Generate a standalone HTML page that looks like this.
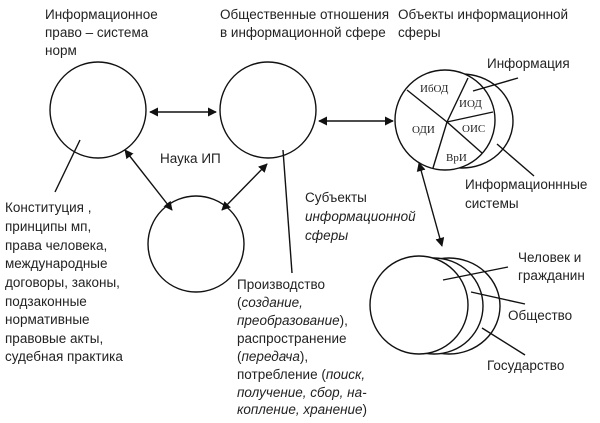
<!DOCTYPE html>
<html><head><meta charset="utf-8"><style>
body{margin:0;background:#fff;width:600px;height:423px;overflow:hidden}
svg{display:block}
text{font-family:"Liberation Sans","DejaVu Sans",sans-serif;font-size:13.5px;fill:#222}
.s{font-family:"Liberation Serif",serif;font-size:11px}
</style></head><body>
<svg width="600" height="423" viewBox="0 0 600 423" xmlns="http://www.w3.org/2000/svg">
<defs>
<marker id="a" viewBox="0 0 10 10" refX="9" refY="5" markerWidth="9" markerHeight="9" orient="auto-start-reverse" markerUnits="userSpaceOnUse"><path d="M0,0L10,5L0,10z" fill="#111"/></marker>
</defs>
<g fill="#fff" stroke="#111" stroke-width="1.4">
<circle cx="98" cy="110" r="48"/>
<circle cx="268" cy="110" r="48"/>
<circle cx="196" cy="244" r="48"/>
<ellipse cx="462" cy="121" rx="51" ry="47"/>
<circle cx="445" cy="120" r="50"/>
<ellipse cx="449" cy="306" rx="51" ry="48"/>
<ellipse cx="434" cy="306" rx="49" ry="48"/>
<circle cx="419" cy="305" r="49"/>
</g>
<g stroke="#111" stroke-width="1.4" fill="none">
<line x1="447" y1="122" x2="407" y2="90"/>
<line x1="447" y1="122" x2="468" y2="78"/>
<line x1="447" y1="122" x2="493" y2="112"/>
<line x1="447" y1="122" x2="482" y2="153"/>
<line x1="447" y1="122" x2="433" y2="168"/>
<line x1="150" y1="112" x2="216" y2="112" marker-start="url(#a)" marker-end="url(#a)"/>
<line x1="319" y1="121" x2="393" y2="121" marker-start="url(#a)" marker-end="url(#a)"/>
<line x1="125" y1="150" x2="172" y2="210" marker-start="url(#a)" marker-end="url(#a)"/>
<line x1="267" y1="164" x2="222" y2="210" marker-start="url(#a)" marker-end="url(#a)"/>
<line x1="419" y1="163" x2="442" y2="246" marker-start="url(#a)" marker-end="url(#a)"/>
<line x1="55" y1="192" x2="80" y2="140"/>
<line x1="283" y1="150" x2="292" y2="273"/>
<line x1="473" y1="91" x2="518" y2="78"/>
<line x1="497" y1="144" x2="534" y2="176"/>
<line x1="443" y1="280" x2="508" y2="267"/>
<line x1="471" y1="292" x2="525" y2="304"/>
<line x1="482" y1="328" x2="525" y2="355"/>
</g>
<text x="45" y="19">Информационное</text>
<text x="45" y="37">право – система</text>
<text x="45" y="55">норм</text>
<text x="220" y="19">Общественные отношения</text>
<text x="220" y="37">в информационной сфере</text>
<text x="398" y="19">Объекты информационной</text>
<text x="398" y="37">сферы</text>
<text x="487" y="68">Информация</text>
<text x="465" y="189">Информационнные</text>
<text x="465" y="208">системы</text>
<text x="160" y="163">Наука ИП</text>
<text x="305" y="202">Субъекты</text>
<text x="305" y="221" font-style="italic">информационной</text>
<text x="305" y="240" font-style="italic">сферы</text>
<text x="518" y="262">Человек и</text>
<text x="518" y="280">гражданин</text>
<text x="508" y="320">Общество</text>
<text x="487" y="370">Государство</text>
<g>
<text x="5" y="212">Конституция ,</text>
<text x="5" y="231">принципы мп,</text>
<text x="5" y="250">права человека,</text>
<text x="5" y="268">международные</text>
<text x="5" y="287">договоры, законы,</text>
<text x="5" y="306">подзаконные</text>
<text x="5" y="324">нормативные</text>
<text x="5" y="343">правовые акты,</text>
<text x="5" y="361">судебная практика</text>
</g>
<g>
<text x="237" y="289">Производство</text>
<text x="237" y="307">(<tspan font-style="italic">создание,</tspan></text>
<text x="237" y="325"><tspan font-style="italic">преобразование</tspan>),</text>
<text x="237" y="343">распространение</text>
<text x="237" y="361">(<tspan font-style="italic">передача</tspan>),</text>
<text x="237" y="379">потребление (<tspan font-style="italic">поиск,</tspan></text>
<text x="237" y="397" font-style="italic">получение, сбор, на-</text>
<text x="237" y="414" font-style="italic">копление, хранение<tspan font-style="normal">)</tspan></text>
</g>
<text class="s" x="420" y="92">ИбОД</text>
<text class="s" x="459" y="107">ИОД</text>
<text class="s" x="412" y="133">ОДИ</text>
<text class="s" x="462" y="132">ОИС</text>
<text class="s" x="446" y="161">ВрИ</text>
</svg>
</body></html>
